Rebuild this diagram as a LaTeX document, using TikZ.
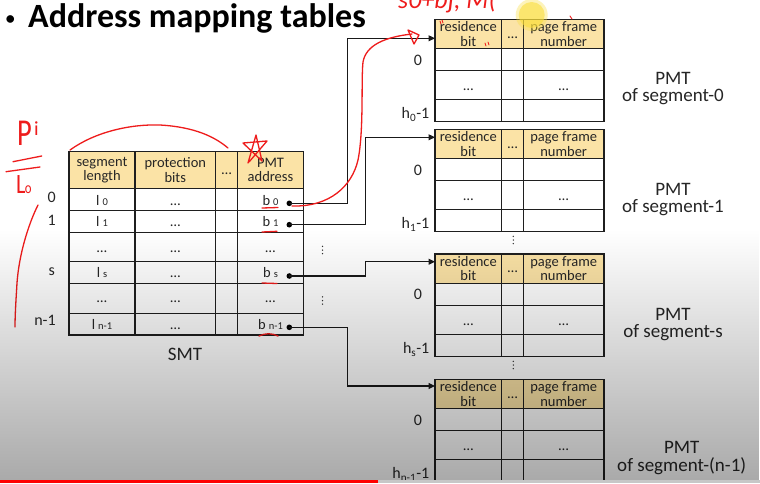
\documentclass[tikz,border=0pt]{standalone}
\usepackage{fontspec}
\setmainfont{Carlito}
\usetikzlibrary{arrows.meta,fadings,calc}

\tikzfading[name=fadedown, top color=transparent!100, middle color=transparent!88, bottom color=transparent!66]

\definecolor{hdrfill}{RGB}{251,227,166}
\definecolor{pen}{RGB}{238,28,28}
\definecolor{hilite}{RGB}{250,222,60}

\newcommand\titlefont{\fontsize{34}{36}\selectfont\bfseries}
\newcommand\cellfont{\fontsize{14.5}{14.3}\selectfont}
\newcommand\subfont{\fontsize{10.5}{10}\selectfont}
\newcommand\labfont{\fontsize{16}{16}\selectfont}
\newcommand\capfont{\fontsize{19}{17.7}\selectfont}

% three small dots standing for omitted rows
\newcommand{\vdotsat}[2]{%
  \fill[black!80] (#1,#2-3.6) circle[radius=0.75pt] (#1,#2) circle[radius=0.75pt] (#1,#2+3.6) circle[radius=0.75pt];
}

% one page-map table: #1 name, #2 top edge, #3 subscript of h, #4 segment tag, #5 caption x, #6 caption baseline offset
\newcommand{\pmttable}[6]{%
  \fill[hdrfill] (435,#2) rectangle (604,#2+29.4);
  \draw[tabline] (435,#2+29.4) -- (604,#2+29.4)
                 (435,#2+51.4) -- (604,#2+51.4)
                 (435,#2+80.5) -- (604,#2+80.5)
                 (501.7,#2) -- (501.7,#2+102.1)
                 (523.3,#2) -- (523.3,#2+102.1);
  \node[tabline, anchor=north west, minimum width=169pt, minimum height=102.1pt] (#1) at (435,#2) {};
  \node[cell] (#1-rb) at (468.3,#2+14.8) {residence\\bit};
  \node[cell, anchor=base] (#1-hd) at (512.5,#2+18.9) {…};
  \node[cell] (#1-pf) at (563.7,#2+14.8) {page frame\\number};
  \node[cell, anchor=base] (#1-m1) at (468.3,#2+71.5) {…};
  \node[cell, anchor=base] (#1-m2) at (563.7,#2+71.5) {…};
  \node[lab, anchor=base] (#1-r0) at (418,#2+45.7) {0};
  \node[lab, anchor=base east] (#1-rl) at (429.5,#2+99.5) {h\textsubscript{#3}-1};
  \node[capt, anchor=base] (#1-c1) at (#5,#2+#6) {PMT};
  \node[capt, anchor=base] (#1-c2) at (#5,#2+#6+17.7) {of segment-#4};
}

\begin{document}
\begin{tikzpicture}[x=1pt, y=-1pt,
  tabline/.style={draw=black!88, line width=1.2pt, inner sep=0pt, outer sep=0pt},
  cell/.style={font=\cellfont, align=center, inner sep=0pt, text=black!85},
  lab/.style={font=\labfont, inner sep=0pt, text=black!85},
  capt/.style={font=\capfont, inner sep=0pt, text=black!85},
  dotmark/.style={circle, fill=black, inner sep=0pt, minimum size=5.6pt},
  conn/.style={draw=black!90, line width=1.1pt, -{Triangle[length=6.5pt,width=6pt]}},
  pen/.style={draw=pen, line width=1.3pt, line cap=round, line join=round},
  pentext/.style={text=pen, inner sep=0pt}]

\useasboundingbox (0,0) rectangle (760,483);
\fill[white] (0,0) rectangle (760,483);

% heading
\node[anchor=base west, inner sep=0pt] (bullet) at (5.6,24.8) {\fontsize{18}{18}\selectfont\bfseries •};
\node[anchor=base west, inner sep=0pt] (title) at (28,27.3) {\titlefont Address mapping tables};

% ---------- segment map table ----------
\fill[hdrfill] (69,151.3) rectangle (303.3,188.3);
\draw[tabline] (69,188.3) -- (303.3,188.3)
               (69,210.3) -- (303.3,210.3)
               (69,232.3) -- (303.3,232.3)
               (69,261.7) -- (303.3,261.7)
               (69,283.3) -- (303.3,283.3)
               (69,313.3) -- (303.3,313.3)
               (135,151.3) -- (135,335)
               (215.7,151.3) -- (215.7,335)
               (237.7,151.3) -- (237.7,335);
\node[tabline, anchor=north west, minimum width=234.3pt, minimum height=183.7pt] (smt) at (69,151.3) {};

\node[cell] (s-h1) at (102,170) {segment\\length};
\node[cell] (s-h2) at (175.3,170) {protection\\bits};
\node[cell, anchor=base] (s-h3) at (226.7,174.2) {…};
\node[cell] (s-h4) at (270.5,170) {PMT\\address};

\node[cell, anchor=base] (s-l0) at (102,205) {l\hspace{3pt}{\subfont 0}};
\node[cell, anchor=base] (s-l1) at (102,226.8) {l\hspace{3pt}{\subfont 1}};
\node[cell, anchor=base] (s-l2) at (102,252) {…};
\node[cell, anchor=base] (s-l3) at (102,277) {l\hspace{3pt}{\subfont s}};
\node[cell, anchor=base] (s-l4) at (102,302.5) {…};
\node[cell, anchor=base] (s-l5) at (102,329) {l\hspace{3pt}{\subfont n-1}};

\foreach \yy/\k in {205/0,226.8/1,252/2,277/3,302.5/4,329/5}
  \node[cell, anchor=base] (s-p\k) at (175.3,\yy) {…};

\node[cell, anchor=base] (s-b0) at (270.5,205) {b\hspace{3pt}{\subfont 0}};
\node[cell, anchor=base] (s-b1) at (270.5,226.8) {b\hspace{3pt}{\subfont 1}};
\node[cell, anchor=base] (s-b2) at (270.5,252) {…};
\node[cell, anchor=base] (s-b3) at (270.5,277) {b\hspace{3pt}{\subfont s}};
\node[cell, anchor=base] (s-b4) at (270.5,302.5) {…};
\node[cell, anchor=base] (s-b5) at (270.5,329) {b\hspace{3pt}{\subfont n-1}};

\node[lab, anchor=base] (i0) at (51.7,202.3) {0};
\node[lab, anchor=base] (i1) at (51.7,225) {1};
\node[lab, anchor=base] (is) at (51.7,275.7) {s};
\node[lab, anchor=base] (in1) at (45,325.7) {n-1};

\node[capt, anchor=base] (smtcap) at (185,360.7) {SMT};

\vdotsat{322.5}{250}
\vdotsat{322.5}{300.5}

% ---------- page map tables ----------
\pmttable{pmt0}{19.3}{0}{0}{673}{64.7}
\pmttable{pmt1}{129.3}{1}{1}{673}{65.7}
\pmttable{pmts}{254}{s}{s}{673}{66}
\pmttable{pmtn}{379.3}{n-1}{(n-1)}{681.7}{74}

\vdotsat{513.3}{240}
\vdotsat{513.3}{365}

% ---------- pointers from SMT entries to the page map tables ----------
\coordinate (busA) at (347.7,0);
\coordinate (busB) at (365.7,0);
\coordinate (in0) at (435,38.3);
\coordinate (in1) at (435,137.3);
\coordinate (ins) at (435,261.7);
\coordinate (inn) at (435,386);

\node[dotmark] (d0) at (289.3,203.3) {};
\node[dotmark] (d1) at (289.3,224.7) {};
\node[dotmark] (ds) at (289.3,276) {};
\node[dotmark] (dn) at (289.3,327.3) {};

\draw[conn] (d0.center) -- (d0.center -| busA) |- (in0);
\draw[conn] (d1.center) -- (d1.center -| busB) |- (in1);
\draw[conn] (ds.center) -- (ds.center -| busB) |- (ins);
\draw[conn] (dn.center) -- (dn.center -| busA) |- (inn);

% ---------- hand-written pen notes ----------
\fill[hilite, opacity=0.35] (531.7,15) circle[radius=16pt];
\fill[hilite, opacity=0.6] (531.7,15) circle[radius=13pt];

\node[pentext, anchor=base west] (note0) at (398,8.5) {\fontsize{26}{26}\selectfont\itshape s0+bj, M(};

\draw[pen] (70,150) .. controls (95,132) and (130,124) .. (160,125)
           .. controls (195,127) and (215,137) .. (228,148);
\draw[pen] (248,163) -- (256,135) -- (262,161) -- (243,143) -- (267,141) -- (249,162);

\draw[pen] (292,206) .. controls (330,207) and (352,186) .. (358,160)
           .. controls (364,130) and (361,80) .. (363,62)
           .. controls (366,45) and (385,37) .. (412,34);
\draw[pen] (408,30) -- (419,35) -- (414,44) -- cycle;

\draw[pen] (262,208) -- (278,207.5);
\draw[pen] (262,232) -- (277,231.3);
\draw[pen] (262,283) -- (277,283.5);
\draw[pen] (259,336) .. controls (265,333) and (272,333) .. (278,336);

\draw[pen, line width=0.9pt] (440,21) -- (441,24) (442,20) -- (443,23);
\draw[pen, line width=0.9pt] (485,43) -- (486,46) (488,42) -- (489,45);
\draw[pen, line width=0.9pt] (570,16) -- (572,19);

\node[pentext, anchor=base west, xscale=0.75] (noteP) at (17,145) {\fontsize{38}{38}\selectfont P};
\node[pentext, anchor=base west] (notei) at (34,135) {\fontsize{20}{20}\selectfont i};
\draw[pen] (13,161.7) -- (41.7,156);
\draw[pen] (6,171.7) -- (40,167);
\node[pentext, anchor=base west, xscale=0.8] (noteL) at (16,193) {\fontsize{28}{28}\selectfont L\kern-1pt{\fontsize{16}{16}\selectfont o}};
\draw[pen] (38,205) .. controls (28,225) and (19,255) .. (17,283)
           .. controls (16,300) and (15,315) .. (15,327);

% video overlay shading and progress bar
\fill[black, path fading=fadedown] (0,230) rectangle (760,483);
\fill[black!22] (378,480) rectangle (760,483);
\fill[red] (0,480) rectangle (378,483);

\end{tikzpicture}
\end{document}
